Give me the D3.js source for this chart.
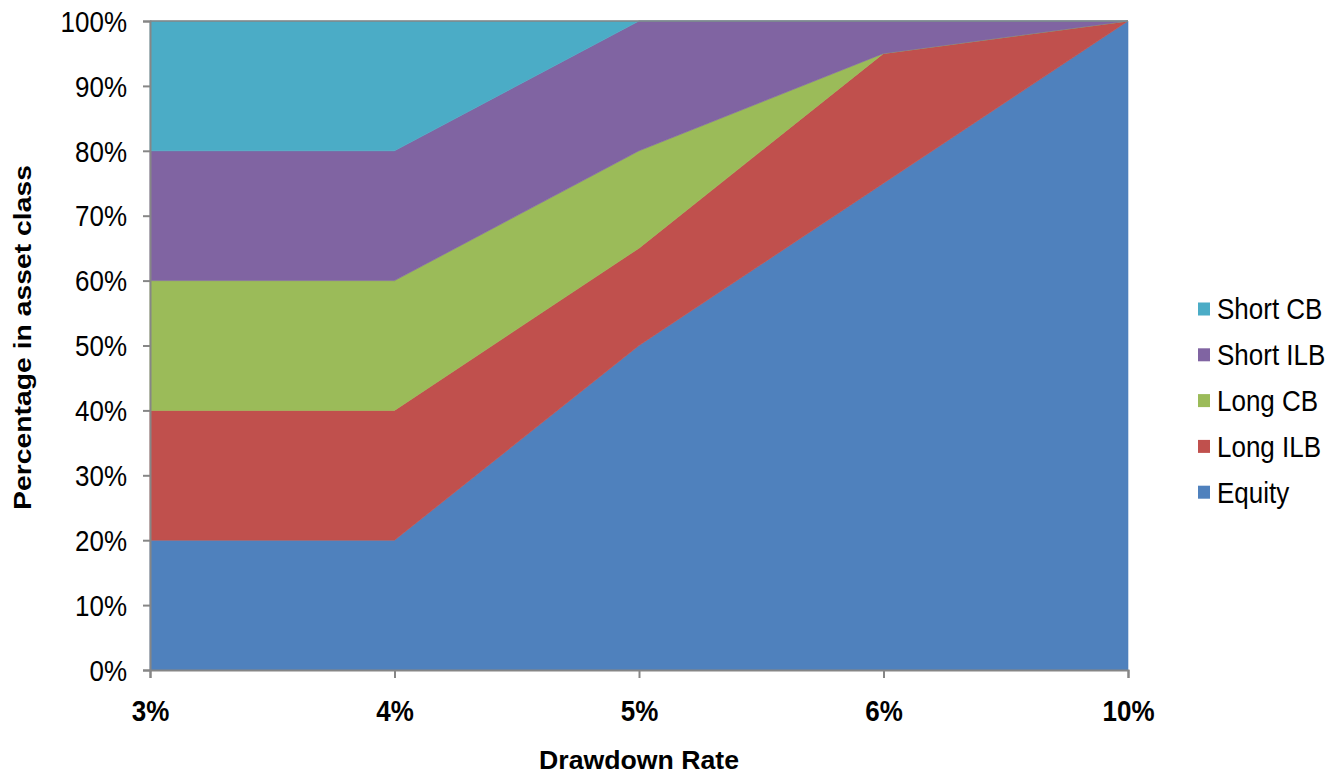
<!DOCTYPE html>
<html>
<head>
<meta charset="utf-8">
<script src="https://cdn.jsdelivr.net/npm/d3@7"></script>
<style>
  html, body { margin: 0; padding: 0; background: #fff; }
  svg { display: block; font-family: Arial, "Liberation Sans", sans-serif; }
</style>
</head>
<body>
<svg id="chart" width="1330" height="774"></svg>
<script>
// Drawdown rates on the x axis (evenly spaced categories)
const categories = ["3%", "4%", "5%", "6%", "10%"];

// Share of the portfolio in each asset class, in percent
const equity   = [20, 20, 50, 75, 100];
const longILB  = [20, 20, 15, 20, 0];
const longCB   = [20, 20, 15, 0, 0];
const shortILB = [20, 20, 20, 5, 0];
const shortCB  = [20, 20, 0, 0, 0];

const seriesNames  = ["Equity", "Long ILB", "Long CB", "Short ILB", "Short CB"];
const seriesValues = [equity, longILB, longCB, shortILB, shortCB];
const seriesColors = ["#4F81BD", "#C0504D", "#9BBB59", "#8064A2", "#4BACC6"];

const yTicks = [0, 10, 20, 30, 40, 50, 60, 70, 80, 90, 100];

const svg = d3.select("#chart");
const plot = { left: 150, right: 1128, top: 21, bottom: 670 };
const textStretch = 1.12; // labels are drawn slightly tall

const x = d3.scalePoint().domain(categories).range([plot.left, plot.right]);
const y = d3.scaleLinear().domain([0, 100]).range([plot.bottom, plot.top]);

// Build rows for the stack
const rows = categories.map((c, i) => {
  const r = { cat: c };
  seriesNames.forEach((n, k) => { r[n] = seriesValues[k][i]; });
  return r;
});
const stacked = d3.stack().keys(seriesNames)(rows);

const area = d3.area()
  .x(d => x(d.data.cat))
  .y0(d => y(d[0]))
  .y1(d => y(d[1]));

svg.append("g").selectAll("path")
  .data(stacked)
  .join("path")
  .attr("d", area)
  .attr("fill", (d, i) => seriesColors[i])
  .attr("stroke", (d, i) => seriesColors[i])
  .attr("stroke-width", 0.6);

const axisColor = "#868686";

// Top border line at 100%
svg.append("line")
  .attr("x1", plot.left).attr("x2", plot.right)
  .attr("y1", y(100)).attr("y2", y(100))
  .attr("stroke", axisColor).attr("stroke-width", 1.5);

// Y axis
const yAxis = svg.append("g")
  .attr("transform", `translate(${plot.left},0)`)
  .call(d3.axisLeft(y).tickValues(yTicks).tickFormat(d => d + "%").tickSize(7).tickPadding(16));
yAxis.select(".domain").attr("stroke", axisColor).attr("stroke-width", 2);
yAxis.selectAll(".tick line").attr("stroke", axisColor).attr("stroke-width", 2);
yAxis.selectAll(".tick text")
  .attr("fill", "#000")
  .attr("font-size", 26)
  .attr("dy", "0.35em")
  .attr("transform", `scale(1,${textStretch})`)
  .attr("font-family", "Arial, 'Liberation Sans', sans-serif");

// X axis
const xAxis = svg.append("g")
  .attr("transform", `translate(0,${plot.bottom})`)
  .call(d3.axisBottom(x).tickSize(8));
xAxis.select(".domain").attr("stroke", axisColor).attr("stroke-width", 2);
xAxis.selectAll(".tick line").attr("stroke", axisColor).attr("stroke-width", 2);
xAxis.selectAll(".tick text")
  .attr("fill", "#000")
  .attr("y", 0)
  .attr("dy", "0.36em")
  .attr("transform", `translate(0,41) scale(1,${textStretch})`)
  .attr("font-size", 26)
  .attr("font-weight", "bold")
  .attr("font-family", "Arial, 'Liberation Sans', sans-serif");

// Axis titles
svg.append("text")
  .attr("x", (plot.left + plot.right) / 2)
  .attr("y", 769)
  .attr("text-anchor", "middle")
  .attr("font-size", 25)
  .attr("font-weight", "bold")
  .attr("textLength", 200)
  .attr("lengthAdjust", "spacingAndGlyphs")
  .text("Drawdown Rate");

svg.append("text")
  .attr("transform", `translate(31,337.5) rotate(-90)`)
  .attr("text-anchor", "middle")
  .attr("font-size", 24)
  .attr("font-weight", "bold")
  .attr("textLength", 345)
  .attr("lengthAdjust", "spacingAndGlyphs")
  .text("Percentage in asset class");

// Legend, top entry is the top of the stack
const legendOrder = d3.range(seriesNames.length).reverse();
const legend = svg.append("g");
legendOrder.forEach((k, j) => {
  const cy = 309 + j * 45.8;
  legend.append("rect")
    .attr("x", 1198).attr("y", cy - 6.5)
    .attr("width", 12).attr("height", 13)
    .attr("fill", seriesColors[k]);
  legend.append("text")
    .attr("transform", `translate(1217,${cy}) scale(1,${textStretch})`)
    .attr("dy", "0.36em")
    .attr("font-size", 26)
    .attr("fill", "#000")
    .text(seriesNames[k]);
});
</script>
</body>
</html>
